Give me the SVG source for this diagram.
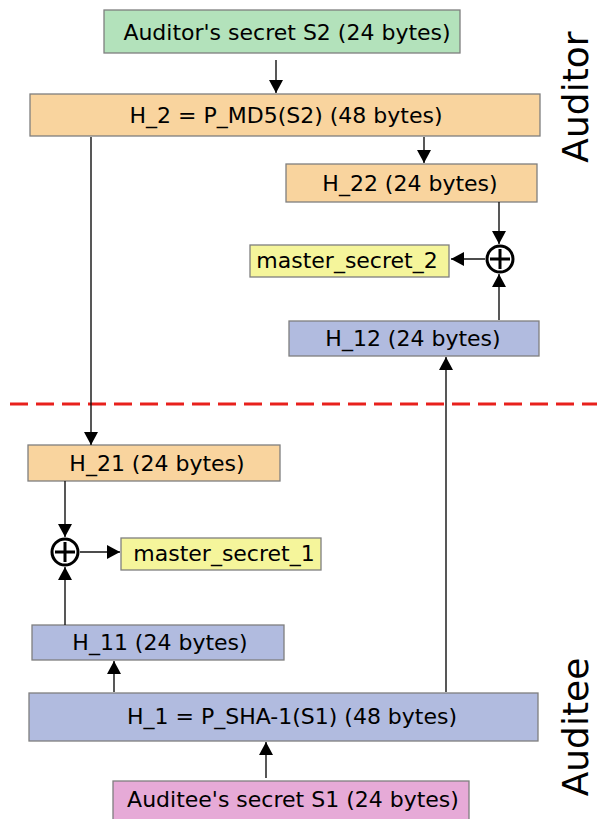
<svg xmlns="http://www.w3.org/2000/svg" width="597" height="819" viewBox="0 0 597 819">
<style>
.box{stroke:#7f7f7f;stroke-width:1.3}
.g{fill:#b3e2bb}.o{fill:#f9d49e}.b{fill:#b1bbdf}.y{fill:#f5f59b}.p{fill:#e6aad7}
text{font-family:"DejaVu Sans",Verdana,sans-serif;font-size:22px;fill:#000}
.c{text-anchor:middle}
.side{font-size:36px;text-anchor:middle}
.ln{stroke:#111;stroke-width:1.4;fill:none}
.xor{fill:#fff;stroke:#000;stroke-width:3}
</style>
<defs>
<marker id="ah" markerUnits="userSpaceOnUse" markerWidth="16" markerHeight="16" viewBox="0 0 16 16" refX="14" refY="8" orient="auto">
<path d="M1,1 L14,8 L1,15 Z" fill="#000"/>
</marker>
</defs>
<line x1="10" y1="404" x2="597" y2="404" stroke="#e8201c" stroke-width="3" stroke-dasharray="18,8"/>
<g id="s2"><rect class="box g" x="104" y="10" width="356" height="43"/><text class="c" x="287" y="40">Auditor's secret S2 (24 bytes)</text></g>
<g id="h2"><rect class="box o" x="30" y="94" width="510" height="42"/><text class="c" x="286" y="123">H_2 = P_MD5(S2) (48 bytes)</text></g>
<g id="h22"><rect class="box o" x="286" y="164" width="251" height="38"/><text class="c" x="410" y="191">H_22 (24 bytes)</text></g>
<g id="ms2"><rect class="box y" x="250" y="245" width="199" height="32"/><text class="c" x="347" y="268">master_secret_2</text></g>
<g id="xor2"><circle class="xor" cx="500" cy="259" r="13"/><path d="M500,249 V269 M490,259 H510" stroke="#000" stroke-width="3"/></g>
<g id="h12"><rect class="box b" x="289" y="321" width="250" height="35"/><text class="c" x="413" y="346">H_12 (24 bytes)</text></g>
<g id="h21"><rect class="box o" x="28" y="445" width="252" height="36"/><text class="c" x="157" y="471">H_21 (24 bytes)</text></g>
<g id="xor1"><circle class="xor" cx="65" cy="552" r="13"/><path d="M65,542 V562 M55,552 H75" stroke="#000" stroke-width="3"/></g>
<g id="ms1"><rect class="box y" x="121" y="538" width="200" height="32"/><text class="c" x="224" y="561">master_secret_1</text></g>
<g id="h11"><rect class="box b" x="32" y="625" width="252" height="35"/><text class="c" x="160" y="650">H_11 (24 bytes)</text></g>
<g id="h1"><rect class="box b" x="29" y="693" width="509" height="48"/><text class="c" x="292" y="724">H_1 = P_SHA-1(S1) (48 bytes)</text></g>
<g id="s1"><rect class="box p" x="113" y="781" width="356" height="40"/><text class="c" x="293" y="807">Auditee's secret S1 (24 bytes)</text></g>
<g id="labels">
<text class="side" transform="translate(588,97) rotate(-90)">Auditor</text>
<text class="side" transform="translate(588,727) rotate(-90)">Auditee</text>
</g>
<g id="connectors">
<line class="ln" x1="276" y1="60" x2="276" y2="93" marker-end="url(#ah)"/>
<line class="ln" x1="91" y1="137" x2="91" y2="445" marker-end="url(#ah)"/>
<line class="ln" x1="424" y1="137" x2="424" y2="163" marker-end="url(#ah)"/>
<line class="ln" x1="499" y1="202" x2="499" y2="244" marker-end="url(#ah)"/>
<line class="ln" x1="499" y1="320" x2="499" y2="274" marker-end="url(#ah)"/>
<line class="ln" x1="485" y1="259" x2="451" y2="259" marker-end="url(#ah)"/>
<line class="ln" x1="446" y1="692" x2="446" y2="357" marker-end="url(#ah)"/>
<line class="ln" x1="65" y1="481" x2="65" y2="537" marker-end="url(#ah)"/>
<line class="ln" x1="65" y1="625" x2="65" y2="567" marker-end="url(#ah)"/>
<line class="ln" x1="80" y1="552" x2="120" y2="552" marker-end="url(#ah)"/>
<line class="ln" x1="114" y1="692" x2="114" y2="661" marker-end="url(#ah)"/>
<line class="ln" x1="266" y1="778" x2="266" y2="742" marker-end="url(#ah)"/>
</g>
</svg>
